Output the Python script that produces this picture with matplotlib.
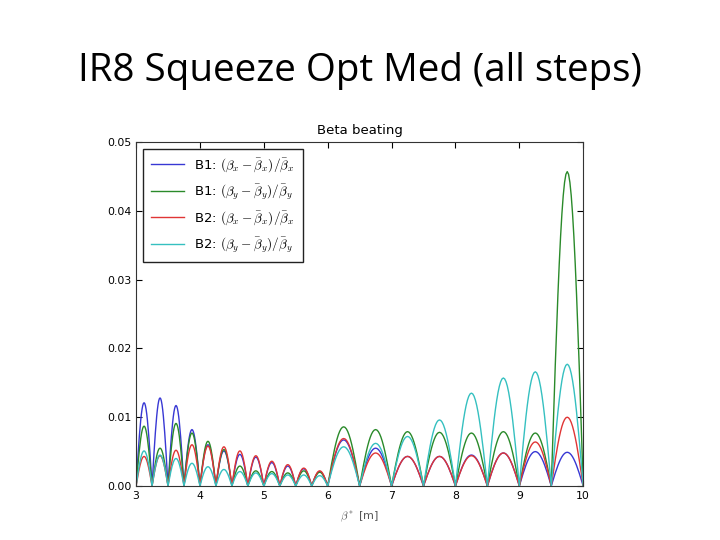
import numpy as np
import matplotlib
matplotlib.use('Agg')
import matplotlib.pyplot as plt

plt.rcParams['mathtext.fontset'] = 'cm'

# arch boundaries (beta* steps) and peak height of each arch
edges = [3.0, 3.25, 3.5, 3.75, 4.0, 4.25, 4.5, 4.75, 5.0, 5.25, 5.5, 5.75, 6.0,
         6.5, 7.0, 7.5, 8.0, 8.5, 9.0, 9.5, 10.0]

b1x_peaks = [0.0121, 0.0128, 0.0117, 0.0082, 0.0060, 0.0051, 0.0046, 0.0042, 0.0034, 0.0029, 0.0025, 0.0021,
             0.0067, 0.0055, 0.0043, 0.0043, 0.0045, 0.0048, 0.0050, 0.0049]
b1y_peaks = [0.0087, 0.0055, 0.0091, 0.0077, 0.0065, 0.0053, 0.0029, 0.0022, 0.0021, 0.0019, 0.0022, 0.0020,
             0.0086, 0.0082, 0.0079, 0.0078, 0.0077, 0.0079, 0.0077, 0.0457]
b2x_peaks = [0.0043, 0.0044, 0.0052, 0.0060, 0.0058, 0.0057, 0.0051, 0.0044, 0.0036, 0.0031, 0.0026, 0.0022,
             0.0069, 0.0048, 0.0043, 0.0043, 0.0044, 0.0048, 0.0064, 0.0100]
b2y_peaks = [0.0051, 0.0045, 0.0040, 0.0033, 0.0028, 0.0024, 0.0021, 0.0019, 0.0018, 0.0016, 0.0016, 0.0015,
             0.0057, 0.0062, 0.0072, 0.0096, 0.0135, 0.0157, 0.0166, 0.0177]

labels = [r'B1: $(\beta_x-\bar{\beta}_x)/\bar{\beta}_x$',
          r'B1: $(\beta_y-\bar{\beta}_y)/\bar{\beta}_y$',
          r'B2: $(\beta_x-\bar{\beta}_x)/\bar{\beta}_x$',
          r'B2: $(\beta_y-\bar{\beta}_y)/\bar{\beta}_y$']
colors = ['#3838d4', '#2a8a2a', '#e03535', '#35c0c0']


def arches(peaks):
    xs, ys = [], []
    for i, p in enumerate(peaks):
        t = np.linspace(0, 1, 25)
        xs.append(edges[i] + t * (edges[i + 1] - edges[i]))
        ys.append(p * np.sin(np.pi * t))
    return np.concatenate(xs), np.concatenate(ys)


fig = plt.figure(figsize=(7.2, 5.4), dpi=100)
fig.text(0.5, 0.868, 'IR8 Squeeze Opt Med (all steps)', ha='center', va='center',
         fontsize=27.7, family='Open Sans')

ax = fig.add_axes([0.189, 0.1, 0.621, 0.637])
for peaks, c, lab in zip([b1x_peaks, b1y_peaks, b2x_peaks, b2y_peaks], colors, labels):
    x, y = arches(peaks)
    ax.plot(x, y, color=c, lw=1.0, label=lab)

ax.set_xlim(3, 10)
ax.set_ylim(0, 0.05)
ax.set_yticks([0, 0.01, 0.02, 0.03, 0.04, 0.05])
ax.yaxis.set_major_formatter(matplotlib.ticker.FormatStrFormatter('%.2f'))
ax.tick_params(direction='in', top=True, right=True, labelsize=7.8, length=4)
for s in ax.spines.values():
    s.set_color('#333333')
ax.set_title('Beta beating', fontsize=9.5)
ax.set_xlabel(r'$\beta^*$ [m]', fontsize=8, color='#555555', labelpad=6)
leg = ax.legend(loc='upper left', fontsize=9.5, fancybox=False, labelspacing=0.6,
                handlelength=2.5, borderpad=0.6)
leg.get_frame().set_edgecolor('#222222')
leg.get_frame().set_alpha(1)

fig.savefig('out.png', dpi=100)
